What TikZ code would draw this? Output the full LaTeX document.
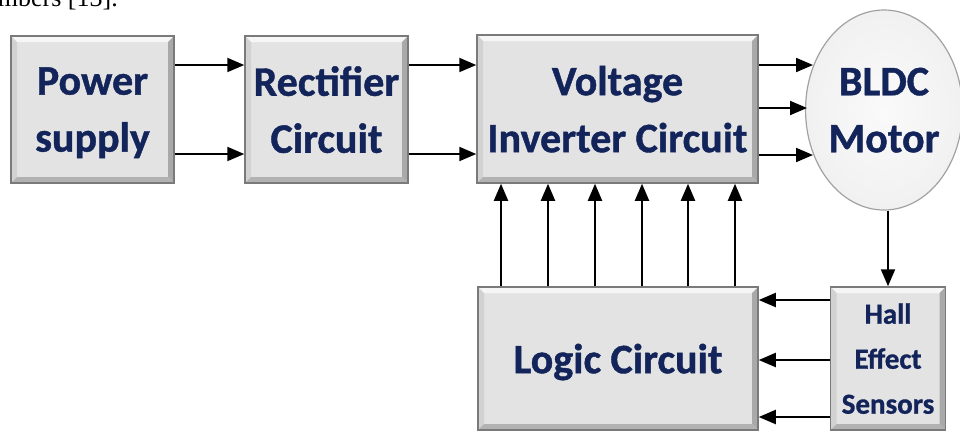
\documentclass[tikz,border=0pt]{standalone}
\usepackage{fontspec}
\setmainfont{Carlito}
\newfontfamily\boxfont{Carlito}[BoldFeatures={FakeBold=1}]
\newfontfamily\capfont{Liberation Serif}
\usetikzlibrary{arrows.meta,shapes.geometric,calc}
\definecolor{navy}{HTML}{12245A}
\definecolor{boxfill}{HTML}{E3E3E3}
\definecolor{boxtop}{HTML}{F6F6F6}
\definecolor{boxleft}{HTML}{D2D2D2}
\definecolor{boxright}{HTML}{A9A9A9}
\definecolor{boxbot}{HTML}{B2B2B2}
\definecolor{boxedge}{HTML}{7A7A7A}
\pgfdeclareradialshading{motorshade}{\pgfpoint{0bp}{0bp}}{%
  color(0bp)=(white!96!gray);
  color(28bp)=(gray!12);
  color(42bp)=(gray!22);
  color(48bp)=(gray!38);
  color(50bp)=(gray!50);
  color(70bp)=(gray!50)}
\tikzset{
  bevelbox/.style={rectangle, inner sep=0pt, fill=boxfill, draw=boxedge, line width=1.5pt,
    text=navy, font=\boxfont\bfseries\fontsize{42}{57}\selectfont, align=center, text depth=0pt,
    path picture={
      \coordinate (nw) at (path picture bounding box.north west);
      \coordinate (ne) at (path picture bounding box.north east);
      \coordinate (sw) at (path picture bounding box.south west);
      \coordinate (se) at (path picture bounding box.south east);
      \fill[boxtop] (nw) -- (ne) -- ([xshift=-6pt,yshift=-6pt]ne) -- ([xshift=6pt,yshift=-6pt]nw) -- cycle;
      \fill[boxleft] (nw) -- (sw) -- ([xshift=6pt,yshift=6pt]sw) -- ([xshift=6pt,yshift=-6pt]nw) -- cycle;
      \fill[boxright] (ne) -- (se) -- ([xshift=-6pt,yshift=6pt]se) -- ([xshift=-6pt,yshift=-6pt]ne) -- cycle;
      \fill[boxbot] (sw) -- (se) -- ([xshift=-6pt,yshift=6pt]se) -- ([xshift=6pt,yshift=6pt]sw) -- cycle;
    }},
  arr/.style={line width=2pt, -{Triangle[length=17pt,width=14pt]}},
}
\begin{document}
\begin{tikzpicture}[x=1pt,y=-1pt]
\useasboundingbox (0,0) rectangle (960,432);
\clip (0,0) rectangle (960,432);
\fill[white] (0,0) rectangle (960,432);
% caption fragment
\node[anchor=base east, inner sep=0pt, font=\capfont\fontsize{26}{26}\selectfont] (cap) at (118,6) {numbers [13].};
% boxes
\node[bevelbox, minimum width=163pt, minimum height=147pt] (ps) at (92.5,109.5) {Power\\supply};
\node[bevelbox, minimum width=163pt, minimum height=147pt] (rc) at (326.5,109.5) {Rectifier\\Circuit};
\node[bevelbox, minimum width=281pt, minimum height=148pt] (vi) at (617.5,109) {Voltage\\Inverter Circuit};
\node[bevelbox, minimum width=280pt, minimum height=143pt] (lc) at (618,358.5) {Logic Circuit};
\node[bevelbox, minimum width=115pt, minimum height=143pt, text depth=-6pt, font=\boxfont\bfseries\fontsize{29}{45}\selectfont] (hall) at (888,358.5) {Hall\\Effect\\Sensors};
\node[ellipse, inner sep=0pt, minimum width=148pt, minimum height=200pt, draw=boxedge!70, line width=1.2pt,
      shading=motorshade, text=navy, font=\boxfont\bfseries\fontsize{42}{57}\selectfont, align=center, text depth=0pt] (mot) at (884,110) {BLDC\\Motor};
% free ends on the motor outline
\coordinate (m1) at (813,65);
\coordinate (m2) at (807,108);
\coordinate (m3) at (813,155);
% connectors
\draw[arr] (ps.east |- 0,65) -- (rc.west |- 0,65);
\draw[arr] (ps.east |- 0,154) -- (rc.west |- 0,154);
\draw[arr] (rc.east |- 0,65) -- (vi.west |- 0,65);
\draw[arr] (rc.east |- 0,154) -- (vi.west |- 0,154);
\draw[arr] (vi.east |- m1) -- (m1);
\draw[arr] (vi.east |- m2) -- (m2);
\draw[arr] (vi.east |- m3) -- (m3);
\foreach \x in {501,548,595,642,688,735}
  \draw[arr] (lc.north -| \x,0) -- (vi.south -| \x,0);
\draw[arr] (hall.north |- mot.south) -- (hall.north);
\draw[arr] (hall.west |- 0,300) -- (lc.east |- 0,300);
\draw[arr] (hall.west |- 0,360) -- (lc.east |- 0,360);
\draw[arr] (hall.west |- 0,417) -- (lc.east |- 0,417);
\end{tikzpicture}
\end{document}
